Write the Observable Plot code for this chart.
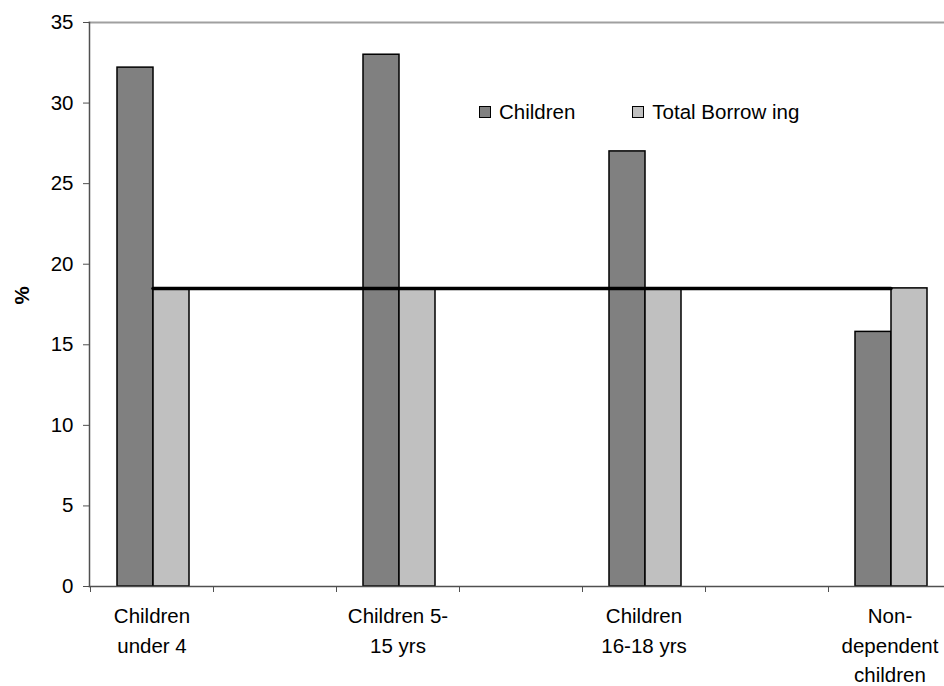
<!DOCTYPE html>
<html>
<head>
<meta charset="utf-8">
<script src="https://cdn.jsdelivr.net/npm/d3@7"></script>
<script src="https://cdn.jsdelivr.net/npm/@observablehq/plot@0.6"></script>
<style>
  html, body { margin: 0; padding: 0; background: #fff; overflow: hidden; }
  #wrap { position: relative; width: 944px; height: 686px; overflow: hidden; font-family: "Liberation Sans", Arial, sans-serif; }
  #legend { position: absolute; left: 479px; top: 100px; display: flex; align-items: center; font-size: 20.5px; color: #000; }
  .sw { width: 12px; height: 12px; border: 1px solid #000; box-sizing: border-box; margin-right: 8px; }
  .item { display: flex; align-items: center; white-space: pre; }
</style>
</head>
<body>
<div id="wrap">
  <div id="legend"></div>
</div>
<script>
const categories = ["Children\nunder 4", "Children 5-\n15 yrs", "Children\n16-18 yrs", "Non-\ndependent\nchildren"];
const children = [32.2, 33.0, 27.0, 15.8];
const totalBorrowing = [18.5, 18.5, 18.5, 18.5];
const seriesNames = ["Children", "Total Borrow ing"];
const seriesColors = ["#808080", "#c0c0c0"];
const yTicks = [0, 5, 10, 15, 20, 25, 30, 35];

// band domain with empty spacer categories between the real ones
const xDomain = categories.flatMap((c, i) => i < categories.length - 1 ? [c, "gap" + i] : [c]);

const childRows = categories.map((c, i) => ({cat: c, value: children[i]}));
const totalRows = categories.map((c, i) => ({cat: c, value: totalBorrowing[i]}));

const chart = Plot.plot({
  width: 944,
  height: 686,
  marginLeft: 89,
  marginRight: -7,
  marginTop: 22,
  marginBottom: 100,
  style: {fontFamily: "Liberation Sans, Arial, sans-serif", fontSize: "20.5px", color: "#000", background: "#fff"},
  x: {domain: xDomain, padding: 0, axis: null},
  y: {domain: [0, 35], axis: null},
  marks: [
    Plot.frame({anchor: "top", stroke: "#a0a0a0", strokeWidth: 2}),
    Plot.barY(childRows, {x: "cat", y: "value", fill: seriesColors[0], stroke: "#000", strokeWidth: 1.5, insetLeft: 27, insetRight: 60}),
    Plot.barY(totalRows, {x: "cat", y: "value", fill: seriesColors[1], stroke: "#000", strokeWidth: 1.5, insetLeft: 63, insetRight: 24}),
    Plot.line(totalRows, {x: "cat", y: "value", stroke: "#000", strokeWidth: 3.5, dx: 1}),
    Plot.frame({anchor: "left", stroke: "#505050", strokeWidth: 1.5}),
    Plot.frame({anchor: "bottom", stroke: "#505050", strokeWidth: 1.5}),
    Plot.axisY({ticks: yTicks, tickSize: 6, tickPadding: 10, stroke: "#505050", fill: "#000", label: null, fontSize: 20.5}),
    Plot.axisX({ticks: xDomain, tickSize: 6, dx: -61.5, stroke: "#505050", tickFormat: () => "", label: null}),
    Plot.text(categories, {x: d => d, text: d => d, frameAnchor: "bottom", lineAnchor: "top", dy: 16, lineHeight: 1.43, fill: "#000", fontSize: 20.5}),
    Plot.text(["%"], {frameAnchor: "left", dx: -67, rotate: -90, fontWeight: "bold", fontSize: 20.5, fill: "#000"})
  ]
});

document.getElementById("wrap").appendChild(chart);

const legend = document.getElementById("legend");
seriesNames.forEach((name, i) => {
  const item = document.createElement("div");
  item.className = "item";
  if (i > 0) item.style.marginLeft = "57px";
  const sw = document.createElement("div");
  sw.className = "sw";
  sw.style.background = seriesColors[i];
  const label = document.createElement("span");
  label.textContent = name;
  item.appendChild(sw);
  item.appendChild(label);
  legend.appendChild(item);
});
</script>
</body>
</html>
